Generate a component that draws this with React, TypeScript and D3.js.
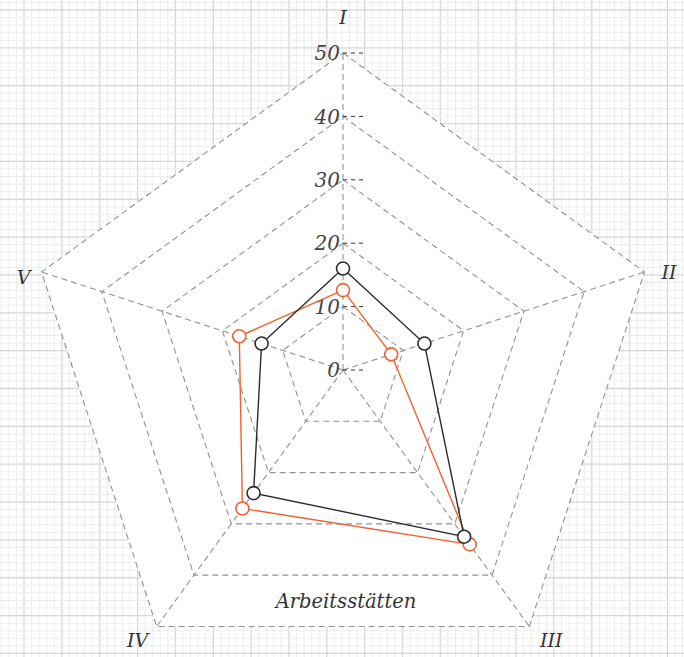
import React from 'react';
import * as d3 from 'd3';

// axes and values
const axes = ['I', 'II', 'III', 'IV', 'V'];
const seriesBlack = [16, 13.5, 32.5, 24, 13.5];
const seriesOrange = [12.6, 8, 34, 27, 17.2];
const ticks = [0, 10, 20, 30, 40, 50];
const title = 'Arbeitsstätten';

const W = 684;
const H = 657;
const cx = 343;
const cy = 370;
const R = 317;
const FONT = '"DejaVu Serif", serif';

// label nudges per axis: [dx, dy, anchor]
const labelPos: [number, number, string][] = [
  [0, -29, 'middle'],
  [17, 7, 'start'],
  [22, 21, 'middle'],
  [-19, 21, 'middle'],
  [-11, 12, 'end'],
];

const App = () => {
  const r = d3.scaleLinear().domain([0, 50]).range([0, R]);
  const angle = d3.scaleLinear().domain([0, axes.length]).range([0, 2 * Math.PI]);
  const pt = (i: number, v: number): [number, number] => [
    cx + r(v) * Math.sin(angle(i)),
    cy - r(v) * Math.cos(angle(i)),
  ];
  const ring = (v: number) => d3.line()(axes.map((_, i) => pt(i, v)).concat([pt(0, v)])) as string;
  const polyLine = (vals: number[]) =>
    d3.line()(vals.map((v, i) => pt(i, v)).concat([pt(0, vals[0])])) as string;

  // graph paper background
  const major = 37.85;
  const minor = major / 5;
  const xs = d3.range(24 - major * 2, W + major, minor);
  const ys = d3.range(10 - major * 2, H + major, minor);

  const series = [
    { vals: seriesOrange, color: '#f0612e' },
    { vals: seriesBlack, color: '#2b2b2b' },
  ];

  return (
    <div style={{ position: 'fixed', left: 0, top: 0 }}>
      <svg width={W} height={H} style={{ display: 'block', background: '#fff' }}>
        <g>
          {xs.map((x, i) => (
            <line key={'vx' + i} x1={x} x2={x} y1={0} y2={H}
              stroke={i % 5 === 0 ? '#d8d8d8' : '#ededed'} strokeWidth={i % 5 === 0 ? 1.3 : 1} />
          ))}
          {ys.map((y, i) => (
            <line key={'hy' + i} x1={0} x2={W} y1={y} y2={y}
              stroke={i % 5 === 0 ? '#d8d8d8' : '#ededed'} strokeWidth={i % 5 === 0 ? 1.3 : 1} />
          ))}
        </g>

        <path d={ring(50)} fill="#fff" />

        {ticks.slice(1).map((t) => (
          <path key={'ring' + t} d={ring(t)} fill="none" stroke="#929292" strokeWidth={1.1} strokeDasharray="6,4" />
        ))}
        {axes.map((a, i) => {
          const [x, y] = pt(i, 50);
          return <line key={'spoke' + a} x1={cx} y1={cy} x2={x} y2={y}
            stroke="#929292" strokeWidth={1.1} strokeDasharray="6,4" />;
        })}

        {ticks.map((t) => (
          <g key={'tick' + t} transform={`translate(${cx},${cy - r(t)})`}>
            <line x1={0} x2={24} stroke="#333" strokeDasharray="4,4" />
            <text x={-3} dy="0.36em" textAnchor="end" fontFamily={FONT} fontStyle="italic"
              fontSize={20} fill="#444">{t}</text>
          </g>
        ))}

        {axes.map((a, i) => {
          const [x, y] = pt(i, 50);
          const [dx, dy, anchor] = labelPos[i];
          return (
            <text key={'lab' + a} x={x + dx} y={y + dy} textAnchor={anchor}
              fontFamily={FONT} fontStyle="italic" fontSize={19} fill="#333">{a}</text>
          );
        })}

        {series.map((s, si) => (
          <g key={'s' + si}>
            <path d={polyLine(s.vals)} fill="none" stroke={s.color} strokeWidth={1.4} />
            {s.vals.map((v, i) => {
              const [x, y] = pt(i, v);
              return <circle key={i} cx={x} cy={y} r={6.5} fill="#fff" stroke={s.color} strokeWidth={1.6} />;
            })}
          </g>
        ))}

        <text x={346} y={608} textAnchor="middle" fontFamily={FONT} fontStyle="italic"
          fontSize={19.5} fill="#333">{title}</text>
      </svg>
    </div>
  );
};

export default App;
